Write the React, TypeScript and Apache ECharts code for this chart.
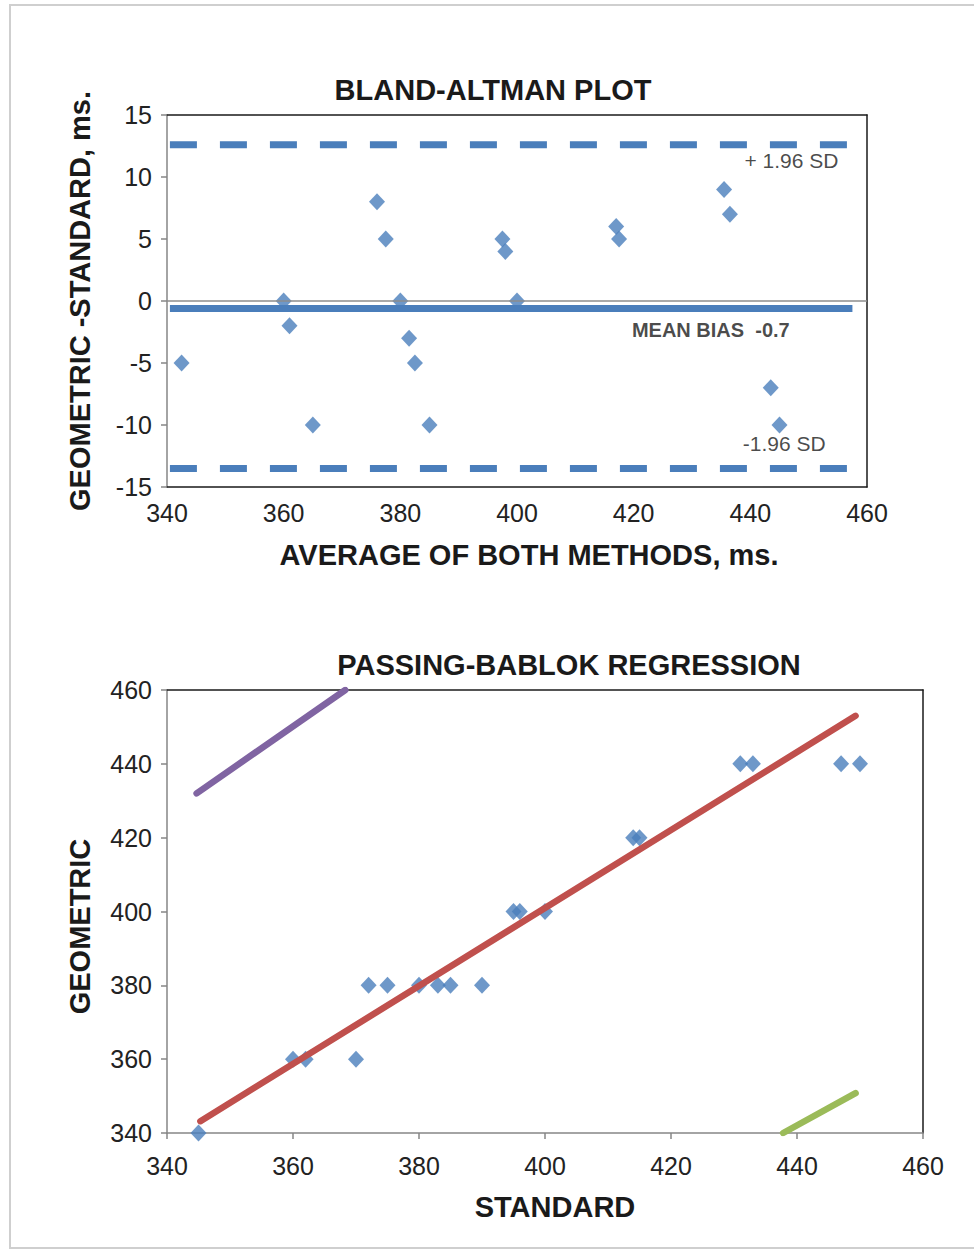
import React, { useEffect, useRef } from "react";
import * as echarts from "echarts";

const FONT = "'Liberation Sans', Arial, sans-serif";
const BLUE = "#4A7EBB";

// Bland-Altman data
const avgBoth = [342.5, 360, 361, 365, 376, 377.5, 380, 381.5, 382.5, 385, 397.5, 398, 400, 417, 417.5, 435.5, 436.5, 443.5, 445];
const diffGS = [-5, 0, -2, -10, 8, 5, 0, -3, -5, -10, 5, 4, 0, 6, 5, 9, 7, -7, -10];
const upperLoA = 12.6;
const meanBias = -0.6;
const lowerLoA = -13.5;
const limitSpan = [340.5, 458.5];

// Passing-Bablok data
const standardVals = [345, 360, 362, 370, 372, 375, 380, 383, 385, 390, 395, 396, 400, 414, 415, 431, 433, 447, 450];
const geometricVals = [340, 360, 360, 360, 380, 380, 380, 380, 380, 380, 400, 400, 400, 420, 420, 440, 440, 440, 440];
const regressionLine = [[345.3, 343.2], [449.3, 453]];
const upperCI = [[344.7, 432], [368.3, 460]];
const lowerCI = [[437.8, 340], [449.3, 350.8]];

export default function App() {
  const ref = useRef<HTMLDivElement>(null);
  useEffect(() => {
    const chart = echarts.init(ref.current!, null, { renderer: "svg" });
    const tickLabel = { fontFamily: FONT, fontSize: 25, color: "#222" };
    const nameStyle = { fontFamily: FONT, fontSize: 29, fontWeight: "bold", color: "#1a1a1a" };
    const blackLine = { onZero: false, lineStyle: { color: "#1a1a1a", width: 1.5 } };
    const grayLine = { onZero: false, lineStyle: { color: "#868686", width: 1.5 } };
    const borderAxis = (grid: number, pos: string, min: number, max: number) => ({
      gridIndex: grid, type: "value", min, max, position: pos,
      axisLine: blackLine, axisTick: { show: false }, axisLabel: { show: false }, splitLine: { show: false },
    });
    const lineS = (data: number[][], color: string, x: number, y: number, extra: any = {}) => ({
      type: "line", xAxisIndex: x, yAxisIndex: y, data, symbol: "none", silent: true,
      lineStyle: { color, width: 6.5, cap: "round", ...extra },
    });
    const annot = (x: number, y: number, text: string, bold: boolean) => ({
      type: "scatter", xAxisIndex: 0, yAxisIndex: 0, symbolSize: 0, silent: true,
      data: [[x, y]],
      label: {
        show: true, position: "right", distance: 0, formatter: text,
        fontFamily: FONT, fontSize: bold ? 20 : 21, fontWeight: bold ? "bold" : "normal", color: "#1a1a1a",
      },
    });
    chart.setOption({
      animation: false,
      graphic: [
        { type: "rect", shape: { x: 10, y: 5, width: 980, height: 1243 }, style: { fill: "none", stroke: "#cfcfcf", lineWidth: 2 }, z: -1 },
        { type: "text", x: 493, y: 90, style: { text: "BLAND-ALTMAN PLOT", fontFamily: FONT, fontSize: 29, fontWeight: "bold", fill: "#1a1a1a", textAlign: "center", textVerticalAlign: "middle" } },
        { type: "text", x: 569, y: 665, style: { text: "PASSING-BABLOK REGRESSION", fontFamily: FONT, fontSize: 29, fontWeight: "bold", fill: "#1a1a1a", textAlign: "center", textVerticalAlign: "middle" } },
      ],
      grid: [
        { left: 167, top: 115, width: 700, height: 372 },
        { left: 167, top: 690, width: 756, height: 443 },
      ],
      xAxis: [
        {
          gridIndex: 0, type: "value", min: 340, max: 460, interval: 20, position: "bottom",
          axisLine: blackLine, axisTick: { show: false }, splitLine: { show: false },
          axisLabel: { ...tickLabel, margin: 13 },
          name: "AVERAGE OF BOTH METHODS, ms.", nameLocation: "middle", nameGap: 53,
          nameTextStyle: { ...nameStyle, padding: [0, 0, 0, 24] },
        },
        borderAxis(0, "top", 340, 460),
        {
          gridIndex: 1, type: "value", min: 340, max: 460, interval: 20, position: "bottom",
          axisLine: grayLine, axisTick: { show: true, length: 6, lineStyle: { color: "#868686", width: 1.5 } }, splitLine: { show: false },
          axisLabel: { ...tickLabel, margin: 20 },
          name: "STANDARD", nameLocation: "middle", nameGap: 59,
          nameTextStyle: { ...nameStyle, padding: [0, 0, 0, 20] },
        },
        borderAxis(1, "top", 340, 460),
      ],
      yAxis: [
        {
          gridIndex: 0, type: "value", min: -15, max: 15, interval: 5, position: "left",
          axisLine: grayLine, axisTick: { show: true, length: 6, lineStyle: { color: "#868686", width: 1.5 } }, splitLine: { show: false },
          axisLabel: { ...tickLabel, margin: 15 },
          name: "GEOMETRIC -STANDARD, ms.", nameLocation: "middle", nameGap: 73, nameRotate: 90, nameTextStyle: nameStyle,
        },
        borderAxis(0, "right", -15, 15),
        {
          gridIndex: 1, type: "value", min: 340, max: 460, interval: 20, position: "left",
          axisLine: grayLine, axisTick: { show: true, length: 6, lineStyle: { color: "#868686", width: 1.5 } }, splitLine: { show: false },
          axisLabel: { ...tickLabel, margin: 15 },
          name: "GEOMETRIC", nameLocation: "middle", nameGap: 73, nameRotate: 90,
          nameTextStyle: { ...nameStyle, padding: [0, 30, 0, 0] },
        },
        borderAxis(1, "right", 340, 460),
      ],
      series: [
        lineS([[340, 0], [460, 0]], "#8c8c8c", 0, 0, { width: 1.5, cap: "butt" }),
        lineS([[limitSpan[0], upperLoA], [limitSpan[1], upperLoA]], BLUE, 0, 0, { type: [27, 23], cap: "butt", width: 7 }),
        lineS([[limitSpan[0], meanBias], [limitSpan[1] - 1, meanBias]], BLUE, 0, 0, { cap: "butt", width: 7 }),
        lineS([[limitSpan[0], lowerLoA], [limitSpan[1], lowerLoA]], BLUE, 0, 0, { type: [27, 23], cap: "butt", width: 7 }),
        {
          type: "scatter", xAxisIndex: 0, yAxisIndex: 0, symbol: "diamond", symbolSize: [16, 17],
          itemStyle: { color: BLUE }, data: avgBoth.map((v, i) => [v, diffGS[i]]),
        },
        annot(439, 11.3, "+ 1.96 SD", false),
        annot(419.7, -2.3, "MEAN BIAS  -0.7", true),
        annot(438.7, -11.5, "-1.96 SD", false),
        lineS(regressionLine, "#C0504D", 2, 2),
        lineS(upperCI, "#8064A2", 2, 2),
        lineS(lowerCI, "#9BBB59", 2, 2),
        {
          type: "scatter", xAxisIndex: 2, yAxisIndex: 2, symbol: "diamond", symbolSize: [16, 17],
          itemStyle: { color: BLUE }, data: standardVals.map((v, i) => [v, geometricVals[i]]),
        },
      ],
    });
    return () => chart.dispose();
  }, []);
  return (
    <div
      ref={ref}
      style={{ position: "absolute", left: 0, top: 0, width: 974, height: 1251, background: "#fff" }}
    />
  );
}
